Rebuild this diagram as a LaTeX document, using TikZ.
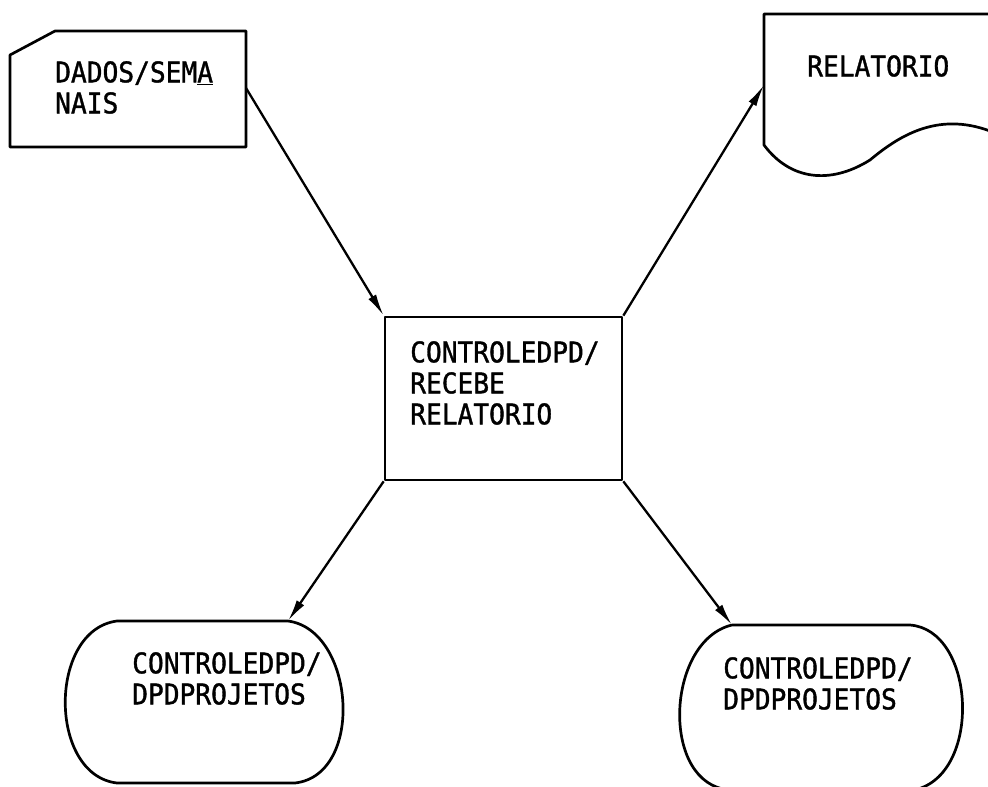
\documentclass[tikz,border=0pt]{standalone}
\usepackage{fontspec}
\newfontfamily\dv[FakeStretch=0.92,FakeBold=1.2]{DejaVu Sans Mono}
\usetikzlibrary{arrows.meta}
\begin{document}
\begin{tikzpicture}[x=1pt,y=-1pt,
  shp/.style={line width=2.7pt, line join=round},
  conn/.style={line width=2.3pt, -{Latex[length=22pt,width=9pt]}},
  lbl/.style={font=\dv\fontsize{28.5}{31}\selectfont, align=left, inner sep=0pt, anchor=north west}]
\useasboundingbox (0,0) rectangle (988,787);
\clip (0,0) rectangle (988,787);

% punched card (input)
\draw[shp] (10,55) -- (55,31) -- (246,31) -- (246,147) -- (10,147) -- cycle;
\coordinate (cardOut) at (246,88);
\node[lbl] (cardtxt) at (55,61) {DADOS/SEM\underline{A}\\NAIS};

% document (report)
\draw[shp] (995,14) -- (764,14) -- (764,145)
  .. controls (790,180) and (830,185) .. (870,160)
  .. controls (900,135) and (940,110) .. (995,133);
\coordinate (docIn) at (764,85);
\node[lbl] (doctxt) at (807,55) {RELATORIO};

% process box
\node[shp, draw, minimum width=237pt, minimum height=163pt, inner sep=0pt] (proc) at (503.5,398.5) {};
\node[lbl] (proctxt) at (410,341) {CONTROLEDPD/\\RECEBE\\RELATORIO};

% left storage
\draw[shp] (117,621) -- (288,621)
  .. controls (355,630) and (365,775) .. (295,783) -- (117,783)
  .. controls (48,775) and (48,630) .. (117,621);
\coordinate (lsIn) at (288,621);
\node[lbl] (lstxt) at (132,652) {CONTROLEDPD/\\DPDPROJETOS};

% right storage
\draw[shp] (732,625) -- (910,625)
  .. controls (975,630) and (982,770) .. (918,789) -- (723,789)
  .. controls (660,775) and (668,640) .. (732,625);
\coordinate (rsIn) at (732,625);
\node[lbl] (rstxt) at (723,657) {CONTROLEDPD/\\DPDPROJETOS};

% connectors
\draw[conn] (cardOut) -- (proc.north west);
\draw[conn] (proc.north east) -- (docIn);
\draw[conn] (proc.south west) -- (lsIn);
\draw[conn] (proc.south east) -- (rsIn);
\end{tikzpicture}
\end{document}
